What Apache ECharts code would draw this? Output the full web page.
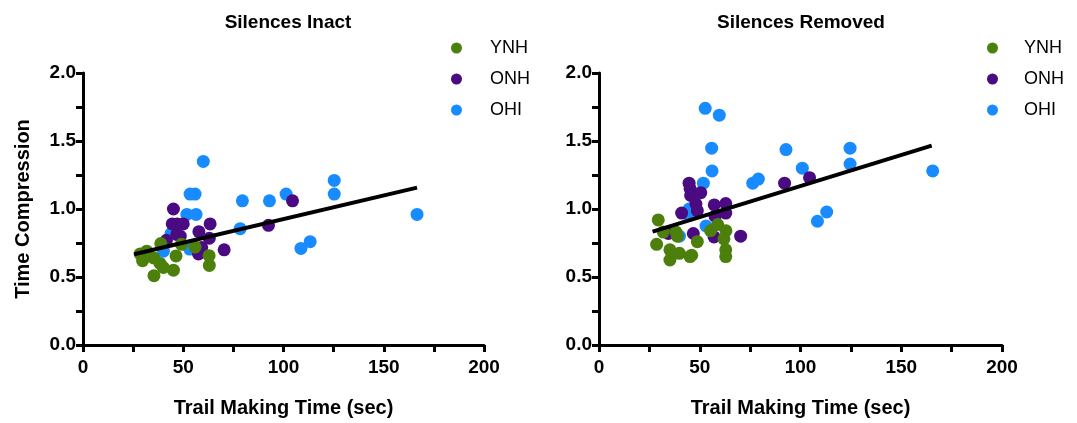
<!DOCTYPE html>
<html>
<head>
<meta charset="utf-8">
<script src="https://cdn.jsdelivr.net/npm/echarts@6/dist/echarts.min.js"></script>
<style>
  html, body { margin: 0; padding: 0; background: #fff; }
  #chart { width: 1077px; height: 423px; }
</style>
</head>
<body>
<div id="chart"></div>
<script>
// groups and titles
const groups = ['YNH', 'ONH', 'OHI']
const panelTitles = ['Silences Inact', 'Silences Removed']
const xTicks = [0, 50, 100, 150, 200]
const yTicks = [0, 0.5, 1.0, 1.5, 2.0]

// Silences Inact  [trail making time, time compression]
const inactYNH = [[28.5, 0.67], [31.8, 0.69], [29.7, 0.62], [35.3, 0.64], [38.4, 0.60], [40.1, 0.57],
  [35.4, 0.51], [45.1, 0.55], [46.4, 0.655], [38.8, 0.746], [49.1, 0.74], [55.9, 0.72], [62.9, 0.657], [63, 0.585]]
const inactONH = [[45.1, 1.0], [44.5, 0.89], [47, 0.89], [50, 0.89], [57.8, 0.833], [63.4, 0.89],
  [46.8, 0.814], [48.5, 0.80], [41.6, 0.77], [59.2, 0.717], [57.6, 0.67], [63, 0.785], [70.4, 0.70],
  [92.5, 0.88], [104.5, 1.06]]
const inactOHI = [[60, 1.35], [53.4, 1.11], [55.9, 1.11], [51.8, 0.96], [56.4, 0.96], [43.9, 0.82],
  [40.1, 0.69], [53.2, 0.705], [78.4, 0.855], [79.5, 1.06], [93, 1.06], [101.3, 1.11], [125.3, 1.21],
  [125.3, 1.11], [113.3, 0.76], [108.7, 0.71], [166.6, 0.96]]
const inactFit = [[25.5, 0.667], [166.6, 1.157]]

// Silences Removed
const removedYNH = [[29.4, 0.92], [31.9, 0.83], [38.2, 0.83], [38.9, 0.80], [28.6, 0.74], [35.2, 0.70],
  [39.9, 0.674], [35.2, 0.625], [45.2, 0.65], [46, 0.66], [48.8, 0.76], [55.4, 0.84], [58.9, 0.886],
  [63, 0.84], [62, 0.78], [62.9, 0.70], [62.9, 0.65]]
const removedONH = [[44.7, 1.19], [45.2, 1.15], [45.5, 1.10], [50.5, 1.12], [48.1, 1.036], [48.8, 0.988],
  [41, 0.97], [57.2, 1.03], [62.9, 1.04], [62.9, 0.97], [57.6, 0.947], [46.8, 0.82], [57.1, 0.795],
  [70.3, 0.80], [34.4, 0.82], [92.1, 1.19], [104.5, 1.23]]
const removedOHI = [[52.7, 1.74], [59.7, 1.69], [55.9, 1.447], [56.1, 1.28], [51.8, 1.19], [76.3, 1.19],
  [79.1, 1.22], [44.7, 1.0], [44.7, 0.955], [53.1, 0.875], [39.9, 0.80], [92.8, 1.437], [124.6, 1.447],
  [100.9, 1.30], [124.6, 1.33], [165.6, 1.28], [113, 0.978], [108.4, 0.91]]
const removedFit = [[26.6, 0.833], [165.1, 1.466]]

const colors = { YNH: '#4C7F0B', ONH: '#4A0A82', OHI: '#178BFF' }
const font = 'Liberation Sans, Arial, sans-serif'

const chart = echarts.init(document.getElementById('chart'))

function xAxis(gridIndex) {
  return {
    gridIndex: gridIndex,
    type: 'value',
    min: xTicks[0],
    max: xTicks[xTicks.length - 1],
    interval: 50,
    name: 'Trail Making Time (sec)',
    nameLocation: 'middle',
    nameGap: 53,
    nameTextStyle: { color: '#000', fontSize: 20, fontWeight: 'bold', fontFamily: font },
    axisLine: { show: true, lineStyle: { color: '#000', width: 3 } },
    axisTick: { show: true, length: 7, lineStyle: { color: '#000', width: 3 } },
    minorTick: { show: true, splitNumber: 2, length: 7, lineStyle: { color: '#000', width: 3 } },
    axisLabel: { color: '#000', fontSize: 19, fontWeight: 'bold', fontFamily: font, margin: 13 },
    splitLine: { show: false }
  }
}

function yAxis(gridIndex) {
  return {
    gridIndex: gridIndex,
    type: 'value',
    min: yTicks[0],
    max: yTicks[yTicks.length - 1],
    interval: 0.5,
    name: gridIndex === 0 ? 'Time Compression' : '',
    nameLocation: 'middle',
    nameGap: 50,
    nameTextStyle: { color: '#000', fontSize: 20, fontWeight: 'bold', fontFamily: font },
    axisLine: { show: true, lineStyle: { color: '#000', width: 3 } },
    axisTick: { show: true, length: 7, lineStyle: { color: '#000', width: 3 } },
    minorTick: { show: true, splitNumber: 2, length: 7, lineStyle: { color: '#000', width: 3 } },
    axisLabel: {
      color: '#000', fontSize: 19, fontWeight: 'bold', fontFamily: font, margin: 7,
      formatter: v => v.toFixed(1)
    },
    splitLine: { show: false }
  }
}

function scatter(name, data, idx) {
  return {
    name: name,
    type: 'scatter',
    xAxisIndex: idx,
    yAxisIndex: idx,
    data: data,
    symbolSize: 13,
    itemStyle: { color: colors[name], opacity: 1 },
    emphasis: { disabled: true }
  }
}

function fit(data, idx) {
  return {
    type: 'line',
    xAxisIndex: idx,
    yAxisIndex: idx,
    data: data,
    symbol: 'none',
    lineStyle: { color: '#000', width: 4 },
    z: 5
  }
}

function legend(left, pad) {
  return {
    data: groups,
    orient: 'vertical',
    left: left,
    top: 33,
    icon: 'circle',
    itemWidth: 11,
    itemHeight: 11,
    itemGap: 11,
    selectedMode: false,
    textStyle: { color: '#000', fontSize: 18, fontFamily: font, lineHeight: 20, padding: [0, 0, 0, pad] }
  }
}

chart.setOption({
  animation: false,
  title: [
    { text: panelTitles[0], left: 283, top: 8, textAlign: 'center',
      textStyle: { fontSize: 19, fontWeight: 'bold', color: '#000', fontFamily: font } },
    { text: panelTitles[1], left: 796, top: 8, textAlign: 'center',
      textStyle: { fontSize: 19, fontWeight: 'bold', color: '#000', fontFamily: font } }
  ],
  legend: [legend(446, 23), legend(982, 21)],
  grid: [
    { left: 83, top: 73, width: 401, height: 276 },
    { left: 599, top: 73, width: 403, height: 276 }
  ],
  xAxis: [xAxis(0), xAxis(1)],
  yAxis: [yAxis(0), yAxis(1)],
  series: [
    scatter('OHI', inactOHI, 0),
    scatter('ONH', inactONH, 0),
    scatter('YNH', inactYNH, 0),
    fit(inactFit, 0),
    scatter('OHI', removedOHI, 1),
    scatter('ONH', removedONH, 1),
    scatter('YNH', removedYNH, 1),
    fit(removedFit, 1)
  ]
})
</script>
</body>
</html>
